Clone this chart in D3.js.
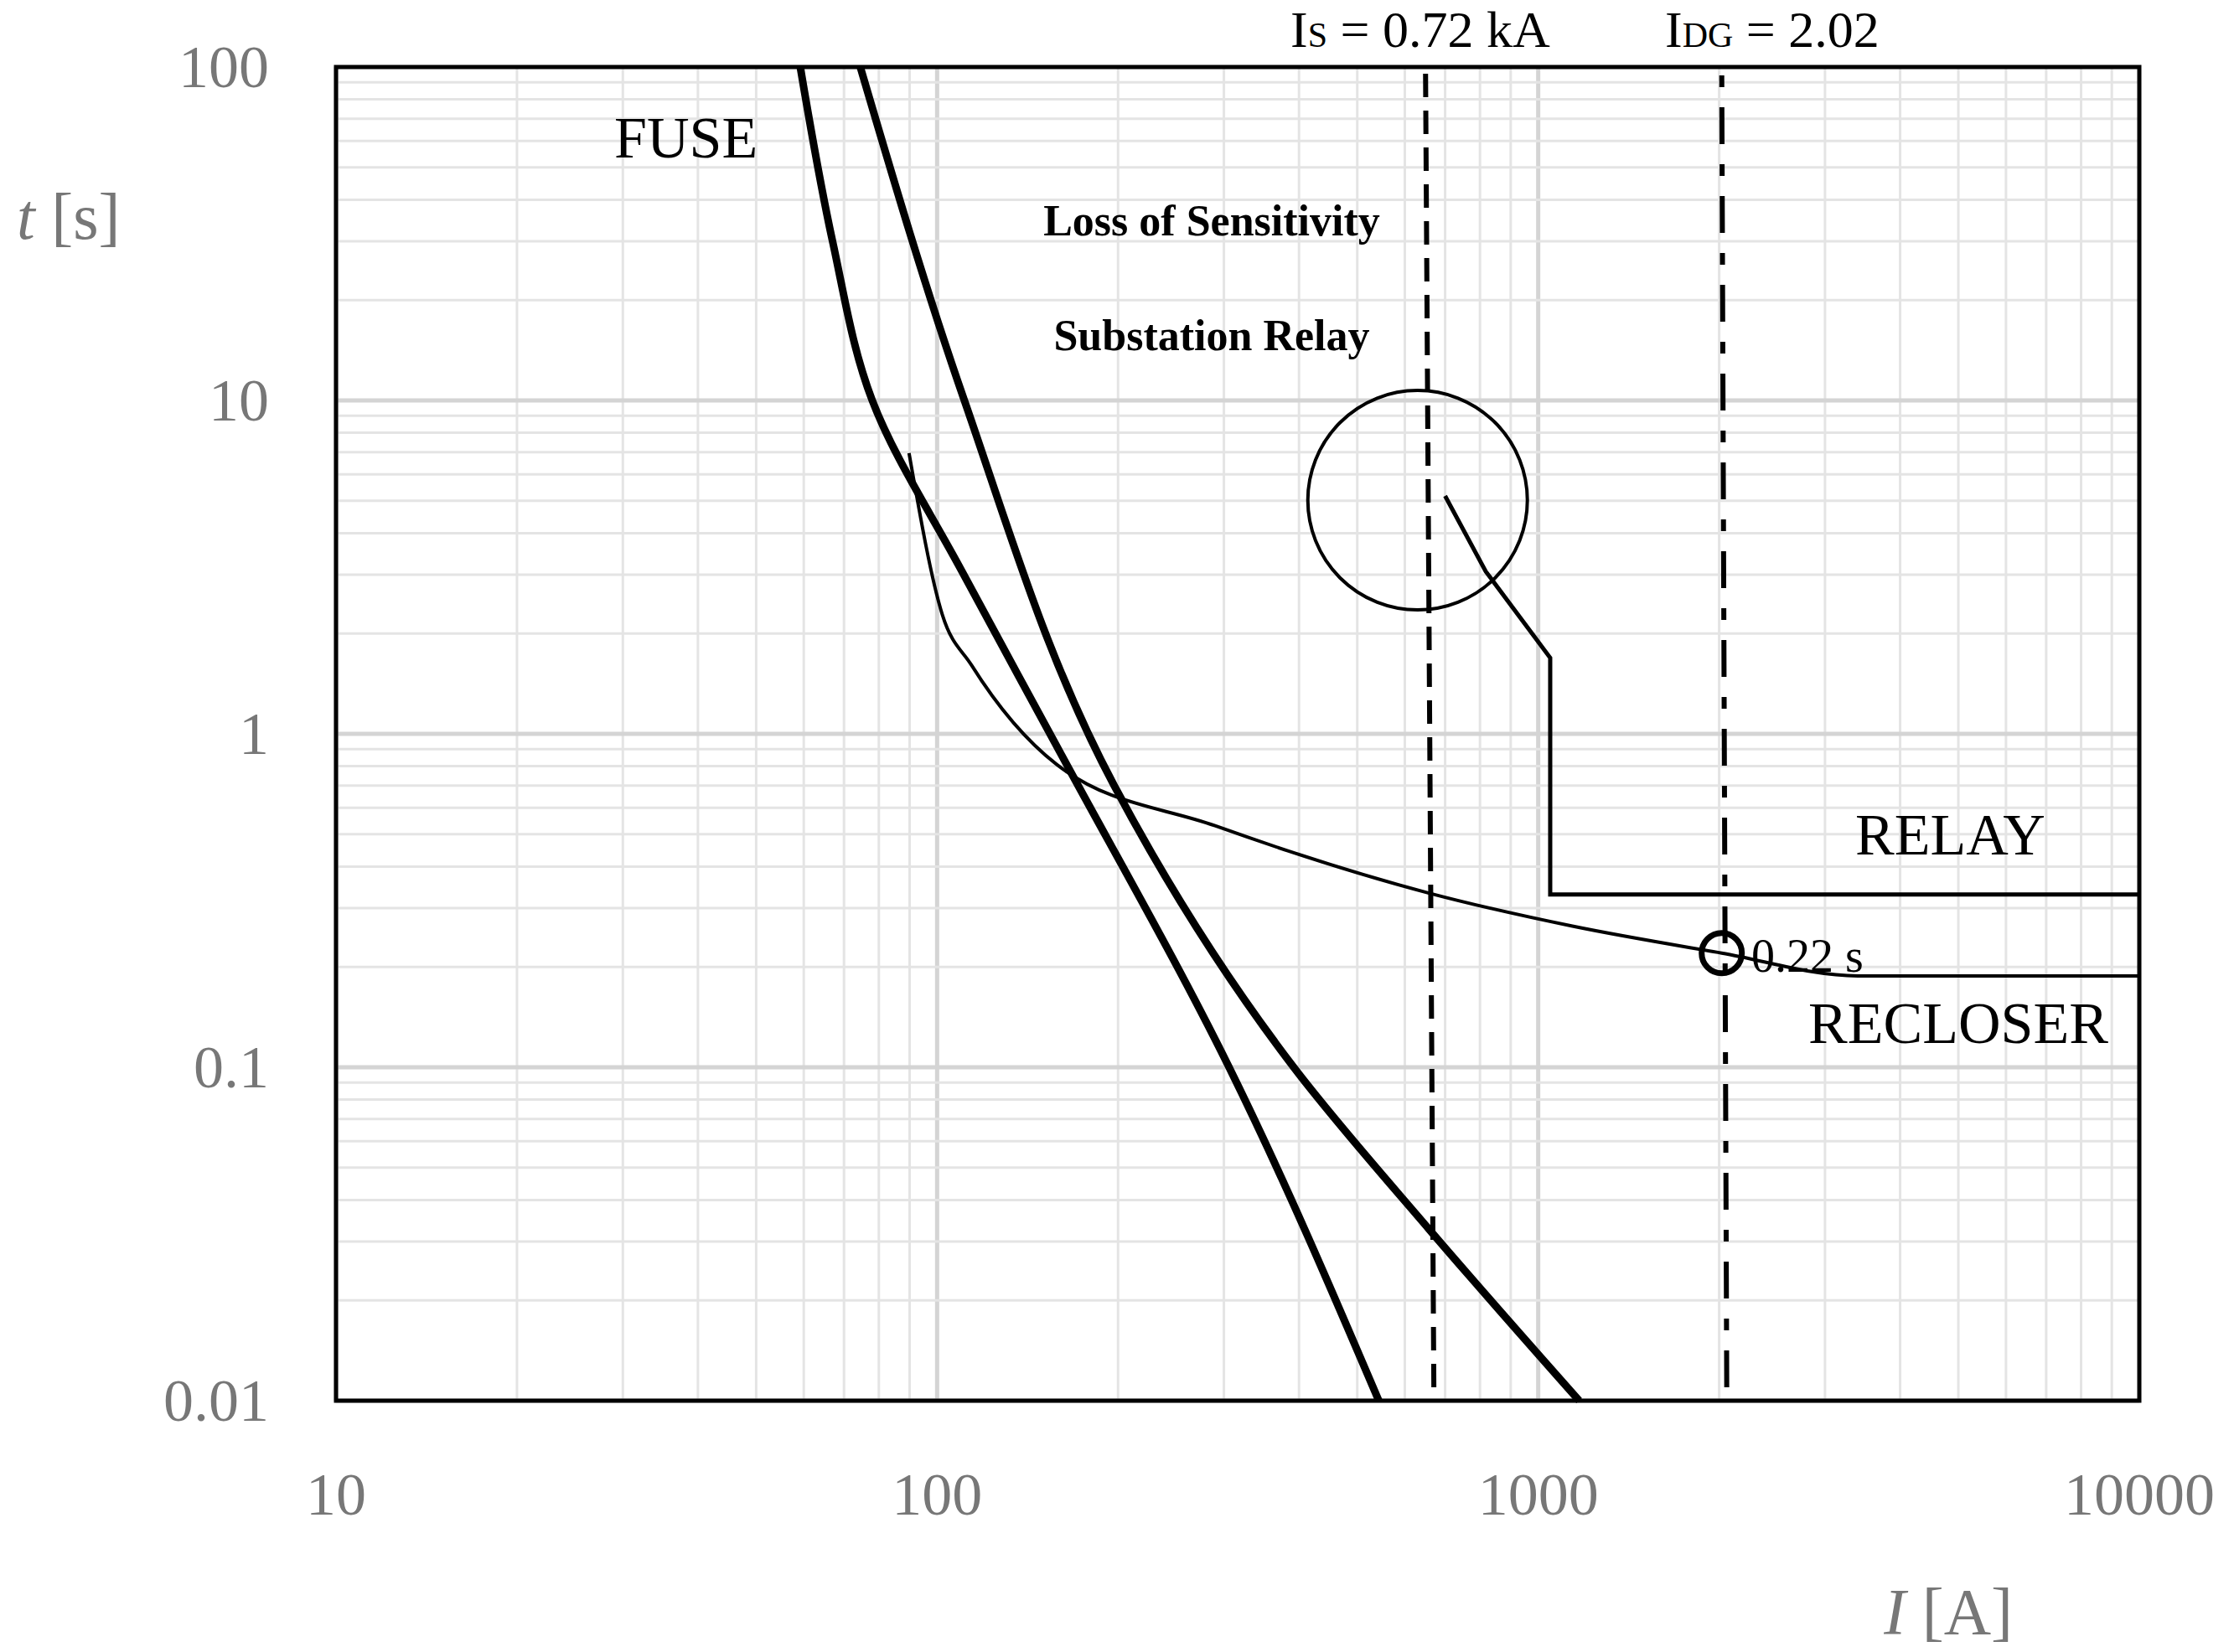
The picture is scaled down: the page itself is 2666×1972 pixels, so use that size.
<!DOCTYPE html>
<html><head><meta charset="utf-8">
<script src="https://cdn.jsdelivr.net/npm/d3@7"></script>
<style>body{margin:0;background:#fff}</style></head>
<body><svg id="c" width="2666" height="1972"></svg>
<script>
const xTicks=[10,100,1000,10000];
const yTicks=[0.01,0.1,1,10,100];
const yTickLabels=["0.01","0.1","1","10","100"];
const fuseMin=[[59.2,100],[67,30],[78,10],[110,3.07],[157,0.94],[306,0.1],[543,0.01]];
const fuseMax=[[74.5,100],[111,10],[197,0.70],[392,0.1],[658,0.0327],[1170,0.01]];
const recloser=[[89.8,6.95],[102,2.28],[114,1.61],[158,0.81],[290,0.53],[658,0.333],[1140,0.265],[2020,0.22],[3400,0.188],[10000,0.188]];
const relay=[[700,5.17],[818,3.07],[1047,1.69],[1047,0.33],[10000,0.33]];
const Is=660, Idg=2020;
const circ={I:630,t:5.02};
const mark={I:2020,t:0.22};

const svg=d3.select("#c");
const L=401,R=2553,T=80,B=1672;
const x=d3.scaleLog().domain([10,10000]).range([L,R]);
const y=d3.scaleLog().domain([0.01,100]).range([B,T]);
const g=svg.append("g");
// grid
for(let d=10;d<10000;d*=10)for(let k=1;k<10;k++){const v=d*k;
 g.append("line").attr("x1",x(v)).attr("x2",x(v)).attr("y1",T).attr("y2",B).attr("stroke",k==1?"#d4d4d4":"#e4e4e4").attr("stroke-width",k==1?5:3);}
for(let d=0.01;d<99;d*=10)for(let k=1;k<10;k++){const v=d*k;
 g.append("line").attr("x1",L).attr("x2",R).attr("y1",y(v)).attr("y2",y(v)).attr("stroke",k==1?"#d4d4d4":"#e4e4e4").attr("stroke-width",k==1?5:3);}
svg.append("rect").attr("x",L).attr("y",T).attr("width",R-L).attr("height",B-T).attr("fill","none").attr("stroke","#000").attr("stroke-width",5);
const line=d3.line().x(d=>x(d[0])).y(d=>y(d[1])).curve(d3.curveMonotoneY);
svg.append("path").attr("d",line(fuseMin)).attr("fill","none").attr("stroke","#000").attr("stroke-width",9);
svg.append("path").attr("d",line(fuseMax)).attr("fill","none").attr("stroke","#000").attr("stroke-width",9);
svg.append("path").attr("d",d3.line().x(d=>x(d[0])).y(d=>y(d[1])).curve(d3.curveMonotoneX)(recloser)).attr("fill","none").attr("stroke","#000").attr("stroke-width",4);
svg.append("path").attr("d",d3.line().x(d=>x(d[0])).y(d=>y(d[1]))(relay)).attr("fill","none").attr("stroke","#000").attr("stroke-width",5);
svg.append("line").attr("x1",x(Is)-5).attr("x2",x(Is)+5).attr("y1",T+8).attr("y2",B).attr("stroke","#000").attr("stroke-width",6).attr("stroke-dasharray","28,16");
svg.append("line").attr("x1",x(Idg)).attr("x2",x(Idg)+6).attr("y1",T+10).attr("y2",B).attr("stroke","#000").attr("stroke-width",6).attr("stroke-dasharray","14,24,44,24");
svg.append("circle").attr("cx",x(circ.I)).attr("cy",y(circ.t)).attr("r",131).attr("fill","none").attr("stroke","#000").attr("stroke-width",4);
svg.append("circle").attr("cx",x(mark.I)).attr("cy",y(mark.t)).attr("r",24).attr("fill","none").attr("stroke","#000").attr("stroke-width",7);
const F="Liberation Serif";
xTicks.forEach(v=>svg.append("text").attr("x",x(v)).attr("y",1808).attr("text-anchor","middle").attr("font-family",F).attr("font-size",72).attr("fill","#777").text(v));
yTicks.forEach((v,i)=>svg.append("text").attr("x",321).attr("y",y(v)+24).attr("text-anchor","end").attr("font-family",F).attr("font-size",72).attr("fill","#777").text(yTickLabels[i]));
const t1=svg.append("text").attr("x",20).attr("y",285).attr("font-family",F).attr("font-size",78).attr("fill","#777");
t1.append("tspan").attr("font-style","italic").text("t");t1.append("tspan").text(" [s]");
const t2=svg.append("text").attr("x",2402).attr("y",1950).attr("text-anchor","end").attr("font-family",F).attr("font-size",78).attr("fill","#777");
t2.append("tspan").attr("font-style","italic").text("I");t2.append("tspan").text(" [A]");
function txt(s,xx,yy,sz,o={}){return svg.append("text").attr("x",xx).attr("y",yy).attr("font-family",F).attr("font-size",sz).attr("fill","#000").attr("font-weight",o.w||"normal").attr("text-anchor",o.a||"start").text(s);}
txt("FUSE",733,188,70);
txt("Loss of Sensitivity",1446,281,52,{w:"bold",a:"middle"});
txt("Substation Relay",1446,418,52,{w:"bold",a:"middle"});
txt("RELAY",2214,1020,70);
txt("RECLOSER",2158,1245,70);
txt("0.22 s",2090,1160,56);
const a=svg.append("text").attr("x",1540).attr("y",56).attr("font-family",F).attr("font-size",62);
a.append("tspan").text("I");a.append("tspan").attr("font-size",42).text("S");a.append("tspan").text(" = 0.72 kA");
const b=svg.append("text").attr("x",1987).attr("y",56).attr("font-family",F).attr("font-size",62);
b.append("tspan").text("I");b.append("tspan").attr("font-size",42).text("DG");b.append("tspan").text(" = 2.02");
</script></body></html>
